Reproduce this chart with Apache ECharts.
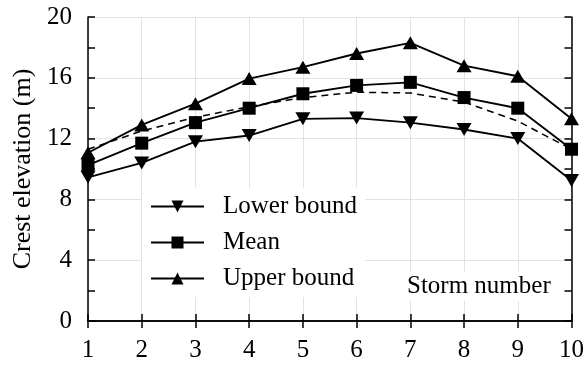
<!DOCTYPE html>
<html>
<head>
<meta charset="utf-8">
<script src="https://cdn.jsdelivr.net/npm/echarts@6/dist/echarts.min.js"></script>
<style>html,body{margin:0;padding:0;background:#fff;}#c{width:587px;height:365px;}</style>
</head>
<body>
<div id="c"></div>
<script>
const storms = ['1','2','3','4','5','6','7','8','9','10'];
const lowerBound = [9.45, 10.4, 11.8, 12.2, 13.3, 13.35, 13.05, 12.6, 12.0, 9.25];
const meanValues = [10.26, 11.7, 13.05, 14.0, 14.95, 15.5, 15.7, 14.7, 14.0, 11.3];
const upperBound = [11.07, 12.9, 14.3, 15.95, 16.7, 17.6, 18.3, 16.8, 16.1, 13.3];
const dashedLine = [11.3, 12.5, 13.4, 14.1, 14.7, 15.05, 15.0, 14.4, 13.15, 11.3];
const yTicks = [0, 4, 8, 12, 16, 20];

const FONT = 'Liberation Serif';
const chart = echarts.init(document.getElementById('c'));
const lineStyle = {color: '#000', width: 1.9};
chart.setOption({
  animation: false,
  backgroundColor: '#fff',
  textStyle: {fontFamily: FONT},
  grid: {left: 88, right: 14, top: 17, bottom: 44},
  legend: {
    left: 142, top: 188, orient: 'vertical',
    backgroundColor: '#fff',
    padding: [6, 8, 6, 8],
    itemWidth: 53, itemHeight: 15, itemGap: 11,
    textStyle: {fontFamily: FONT, fontSize: 25, color: '#000', padding: [0, 0, 0, 14]},
    data: ['Lower bound', 'Mean', 'Upper bound']
  },
  xAxis: [{
    type: 'category', data: storms, boundaryGap: false,
    axisLine: {lineStyle: {color: '#000', width: 1.5}},
    axisTick: {inside: true, length: 7, lineStyle: {color: '#000', width: 1.5}, alignWithLabel: true},
    axisLabel: {fontFamily: FONT, fontSize: 25, color: '#000', margin: 17},
    splitLine: {show: true, lineStyle: {color: '#e2e2e2', width: 1}}
  }, {
    type: 'category', data: storms, boundaryGap: false, position: 'top',
    axisLine: {lineStyle: {color: '#000', width: 1.5}},
    axisTick: {inside: true, length: 7, lineStyle: {color: '#000', width: 1.5}},
    axisLabel: {show: false}, splitLine: {show: false}
  }],
  yAxis: [{
    type: 'value', min: yTicks[0], max: yTicks[yTicks.length - 1], interval: 4,
    name: 'Crest elevation (m)', nameLocation: 'middle', nameGap: 46,
    nameTextStyle: {fontFamily: FONT, fontSize: 26, color: '#000'},
    axisLine: {show: true, lineStyle: {color: '#000', width: 1.5}},
    axisTick: {show: true, inside: true, length: 7, lineStyle: {color: '#000', width: 1.5}},
    minorTick: {show: true, splitNumber: 2, length: 7, lineStyle: {color: '#000', width: 1.5}},
    axisLabel: {fontFamily: FONT, fontSize: 25, color: '#000', margin: 16},
    splitLine: {show: true, lineStyle: {color: '#e2e2e2', width: 1}}
  }, {
    type: 'value', min: 0, max: 20, interval: 2, position: 'right',
    axisLine: {show: true, lineStyle: {color: '#000', width: 1.5}},
    axisTick: {show: true, inside: true, length: 7, lineStyle: {color: '#000', width: 1.5}},
    axisLabel: {show: false}, splitLine: {show: false}
  }],
  graphic: [{
    type: 'text', left: 403, top: 272, z: 10,
    style: {text: 'Storm number', fontFamily: FONT, fontSize: 25, fill: '#000',
      backgroundColor: '#fff', padding: [2, 4, 2, 4]}
  }],
  series: [{
    name: 'Dashed', type: 'line', data: dashedLine, showSymbol: false, symbol: 'none',
    lineStyle: {color: '#000', width: 1.5, type: [7, 5]}, z: 2
  }, {
    name: 'Lower bound', type: 'line', data: lowerBound,
    symbol: 'triangle', symbolRotate: 180, symbolSize: [15, 13],
    itemStyle: {color: '#000'}, lineStyle: lineStyle, z: 3
  }, {
    name: 'Mean', type: 'line', data: meanValues,
    symbol: 'rect', symbolSize: 13,
    itemStyle: {color: '#000'}, lineStyle: lineStyle, z: 3
  }, {
    name: 'Upper bound', type: 'line', data: upperBound,
    symbol: 'triangle', symbolSize: [15, 13],
    itemStyle: {color: '#000'}, lineStyle: lineStyle, z: 3
  }]
});
</script>
</body>
</html>
